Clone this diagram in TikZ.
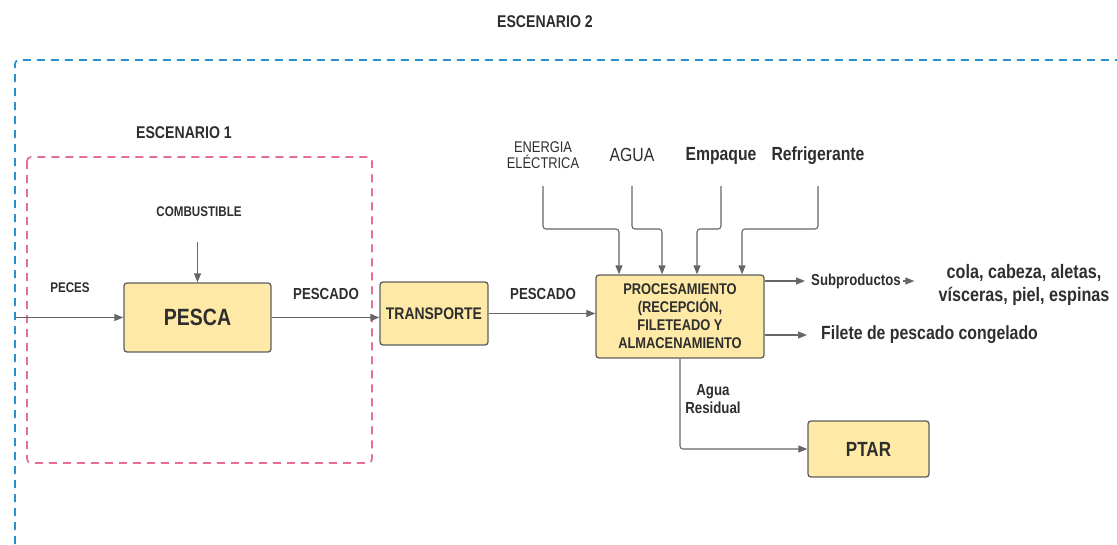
\documentclass[tikz,border=0pt]{standalone}
\usepackage{fontspec}
\setmainfont{Liberation Sans}[FakeStretch=0.83]
\usetikzlibrary{arrows.meta}
\definecolor{boxfill}{HTML}{FEE9A6}
\definecolor{boxline}{HTML}{5E5E5E}
\definecolor{flowgray}{HTML}{666666}
\definecolor{txtgray}{HTML}{2E2E2E}
\definecolor{escuno}{HTML}{E36F93}
\definecolor{escdos}{HTML}{2B8FCF}
\tikzset{
  procbox/.style={draw=boxline, fill=boxfill, line width=1.3pt, rounded corners=3pt,
    align=center, text=txtgray, inner sep=0pt},
  flow/.style={draw=flowgray, line width=1.1pt, rounded corners=3pt,
    -{Triangle[length=9pt,width=7pt]}},
  lbl/.style={text=txtgray, inner sep=0pt, align=center},
  escline/.style={line width=1.7pt, dash pattern=on 8pt off 6pt, rounded corners=4pt}
}
\newcommand\fsz[2]{\fontsize{#1}{#2}\selectfont}

\begin{document}
\begin{tikzpicture}[x=1pt,y=-1pt]
\useasboundingbox (0,0) rectangle (1117,544);
% escenarios
\draw[escline, escdos] (15,600) |- (1200,60);
\draw[escline, escuno] (27,157) rectangle (372,463);
\node[lbl, font=\fsz{17}{20}\bfseries] (escdoslbl) at (545,22) {ESCENARIO 2};
\node[lbl, font=\fsz{17}{20}\bfseries] (escunolbl) at (184,133) {ESCENARIO 1};

% procesos
\node[procbox, minimum width=147pt, minimum height=69pt, font=\fsz{23.5}{26}\bfseries] (pesca) at (197.5,317.5) {PESCA};
\node[procbox, minimum width=108pt, minimum height=63pt, font=\fsz{16.8}{19}\bfseries] (transp) at (434,313.5) {TRANSPORTE};
\node[procbox, minimum width=168pt, minimum height=83pt, font=\fsz{15.5}{18}\bfseries] (proc) at (680,316.5)
  {PROCESAMIENTO\\(RECEPCIÓN,\\FILETEADO Y\\ALMACENAMIENTO};
\node[procbox, minimum width=121pt, minimum height=56pt, font=\fsz{20.5}{23}\bfseries] (ptar) at (868.5,449) {PTAR};

% entradas y salidas
\node[lbl, font=\fsz{14}{16}\bfseries] (comb) at (199,212) {COMBUSTIBLE};
\node[lbl, font=\fsz{14}{16}\bfseries] (peces) at (70,288) {PECES};
\node[lbl, font=\fsz{16}{18}\bfseries] (pescadouno) at (326,294) {PESCADO};
\node[lbl, font=\fsz{16}{18}\bfseries] (pescadodos) at (543,294) {PESCADO};
\node[lbl, font=\fsz{15.5}{16}] (energia) at (543,155) {ENERGIA\\ELÉCTRICA};
\node[lbl, font=\fsz{19}{22}] (agua) at (632,155) {AGUA};
\node[lbl, font=\fsz{19}{22}\bfseries] (empaque) at (721,156) {Empaque};
\node[lbl, font=\fsz{19}{22}\bfseries] (refrig) at (818,156) {Refrigerante};
\node[lbl, font=\fsz{15.9}{18}\bfseries, anchor=west] (subp) at (811,281) {Subproductos};
\node[lbl, font=\fsz{19.5}{23}\bfseries] (cola) at (1024,285) {cola, cabeza, aletas,\\vísceras, piel, espinas};
\node[lbl, font=\fsz{19.1}{22}\bfseries, anchor=west] (filete) at (821,335) {Filete de pescado congelado};
\node[lbl, font=\fsz{16}{18}\bfseries] (resid) at (713,399) {Agua\\Residual};
\coordinate (pin) at (15,317.5);

% conexiones
\draw[flow] (pin) -- (pesca.west);
\draw[flow] (pesca.north |- 0,242) -- (pesca.north);
\draw[flow] (pesca.east) -- (pesca.east -| transp.west);
\draw[flow] (transp.east) -- (proc.west |- transp.east);
\foreach \src/\dx in {energia/-61, agua/-18, empaque/17, refrig/62}
  \draw[flow] (\src.south |- 0,186) -- ++(0,43) -| ([xshift=\dx pt]proc.north);
\draw[flow] (proc.east |- subp.west) -- ([xshift=-6pt]subp.west);
\draw[flow] ([xshift=2pt]subp.east) -- ([xshift=-24pt]cola.west |- subp.east);
\draw[flow] (proc.east |- filete.west) -- ([xshift=-14pt]filete.west);
\draw[flow] (proc.south) |- (ptar.west);
\end{tikzpicture}
\end{document}
